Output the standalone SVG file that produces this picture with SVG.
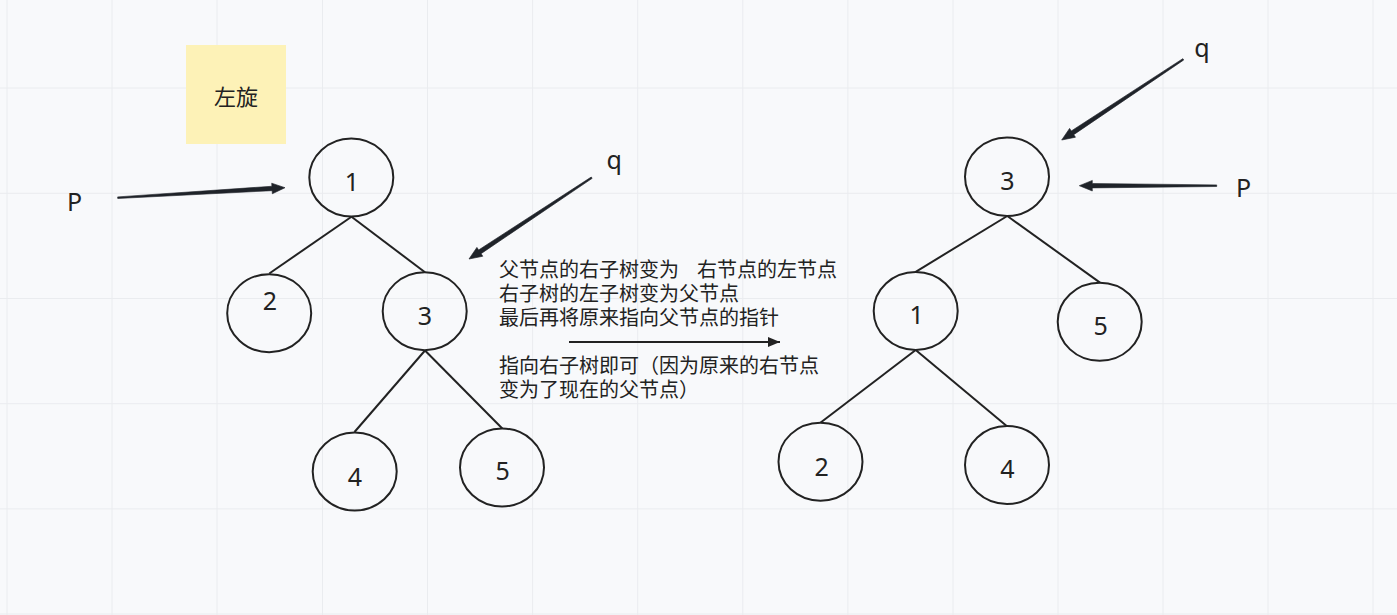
<svg xmlns="http://www.w3.org/2000/svg" width="1397" height="615" viewBox="0 0 1397 615">
  <style>
    .grid { stroke: #eaecef; stroke-width: 1; fill: none; }
    .node ellipse { fill: none; stroke: #222; stroke-width: 2; }
    .lbl { font-family: "Noto Sans", "Open Sans", sans-serif; font-size: 25px; fill: #222; text-anchor: middle; }
    .ptr { font-family: "Noto Sans", "Open Sans", sans-serif; font-size: 25px; fill: #222; }
    .edge { stroke: #222; stroke-width: 2; fill: none; }
    .thick { fill: #1f2329; stroke: #1f2329; stroke-width: 0.6; stroke-linejoin: round; }
    .cjk { font-family: "Noto Sans CJK SC", "Noto Sans", sans-serif; font-size: 20px; fill: #222; }
  </style>
  <defs>
    <marker id="ah" markerWidth="12" markerHeight="10" refX="12" refY="5" orient="auto" markerUnits="userSpaceOnUse">
      <path d="M0,0 L12,5 L0,10 Z" fill="#222"/>
    </marker>
  </defs>
  <rect x="0" y="0" width="1397" height="615" fill="#f8f9fb"/>
  <g id="grid" class="grid">
    <path d="M7,0V615 M112,0V615 M217,0V615 M322.5,0V615 M427.5,0V615 M532.6,0V615 M637.7,0V615 M742.8,0V615 M847.9,0V615 M953,0V615 M1058,0V615 M1163,0V615 M1268,0V615 M1373,0V615"/>
    <path d="M0,88H1397 M0,193.3H1397 M0,298.5H1397 M0,403.7H1397 M0,508.9H1397 M0,614H1397"/>
  </g>

  <g id="sticky">
    <rect x="186" y="45" width="100" height="99" fill="#fdf2b7"/>
    <text class="cjk" x="236" y="104.5" text-anchor="middle" style="font-size:22px">左旋</text>
  </g>

  <g id="connectors">
    <line class="edge" x1="351.5" y1="216.7" x2="269.3" y2="273.5"/>
    <line class="edge" x1="351.5" y1="216.7" x2="425" y2="272.3"/>
    <line class="edge" x1="425" y1="350.5" x2="354.5" y2="432"/>
    <line class="edge" x1="425" y1="350.5" x2="502.3" y2="428.5"/>
    <line class="edge" x1="1007.3" y1="216" x2="915.7" y2="271.8"/>
    <line class="edge" x1="1007.3" y1="216" x2="1100" y2="282.6"/>
    <line class="edge" x1="915.7" y1="350" x2="820.7" y2="422.5"/>
    <line class="edge" x1="915.7" y1="350" x2="1006.7" y2="426"/>
    <line class="edge" x1="569" y1="342" x2="780" y2="342" marker-end="url(#ah)"/>
    <polygon class="thick" transform="translate(285,187.7) rotate(-3.42)" points="-167.6,-0.8 -13,-2.2 -13,-5.3 0,0 -13,5.3 -13,2.2 -167.6,0.8"/>
    <polygon class="thick" transform="translate(469,259) rotate(146.47)" points="-147.2,-0.8 -13,-2.2 -13,-5.3 0,0 -13,5.3 -13,2.2 -147.2,0.8"/>
    <polygon class="thick" transform="translate(1061.7,140) rotate(146.43)" points="-145.9,-0.8 -13,-2.2 -13,-5.3 0,0 -13,5.3 -13,2.2 -145.9,0.8"/>
    <polygon class="thick" transform="translate(1079.3,185.7) rotate(180)" points="-137.4,-0.8 -13,-2.2 -13,-5.3 0,0 -13,5.3 -13,2.2 -137.4,0.8"/>
  </g>

  <g id="left-node-1" class="node"><ellipse cx="351.3" cy="177.5" rx="42" ry="39"/><text class="lbl" x="352" y="191">1</text></g>
  <g id="left-node-2" class="node"><ellipse cx="269.2" cy="313.2" rx="42" ry="39"/><text class="lbl" x="270" y="309.7">2</text></g>
  <g id="left-node-3" class="node"><ellipse cx="424.7" cy="311.2" rx="42" ry="39"/><text class="lbl" x="425" y="325">3</text></g>
  <g id="left-node-4" class="node"><ellipse cx="354.7" cy="471.5" rx="42" ry="39"/><text class="lbl" x="355" y="485.7">4</text></g>
  <g id="left-node-5" class="node"><ellipse cx="502" cy="467.5" rx="42" ry="39"/><text class="lbl" x="502.7" y="480.3">5</text></g>

  <g id="right-node-3" class="node"><ellipse cx="1007" cy="176.7" rx="42" ry="39.3"/><text class="lbl" x="1007.3" y="190">3</text></g>
  <g id="right-node-1" class="node"><ellipse cx="915.7" cy="311" rx="42" ry="39"/><text class="lbl" x="916.7" y="324">1</text></g>
  <g id="right-node-5" class="node"><ellipse cx="1099.7" cy="321.8" rx="42" ry="39"/><text class="lbl" x="1100.7" y="335">5</text></g>
  <g id="right-node-2" class="node"><ellipse cx="820.5" cy="461.7" rx="42" ry="39"/><text class="lbl" x="821.7" y="475.7">2</text></g>
  <g id="right-node-4" class="node"><ellipse cx="1007" cy="465" rx="42" ry="39"/><text class="lbl" x="1007.3" y="478">4</text></g>

  <g id="pointer-labels">
    <text class="ptr" x="67" y="210.7">P</text>
    <text class="ptr" x="606.6" y="168.5">q</text>
    <text class="ptr" x="1194.3" y="56.7">q</text>
    <text class="ptr" x="1236" y="197.3">P</text>
  </g>

  <g id="explanation">
    <text class="cjk"><tspan x="499" y="277">父节点的右子树变为</tspan><tspan x="697" y="277">右节点的左节点</tspan><tspan x="499" y="301">右子树的左子树变为父节点</tspan><tspan x="499" y="325">最后再将原来指向父节点的指针</tspan><tspan x="499" y="373">指向右子树即可（因为原来的右节点</tspan><tspan x="499" y="397">变为了现在的父节点）</tspan></text>
  </g>
</svg>
